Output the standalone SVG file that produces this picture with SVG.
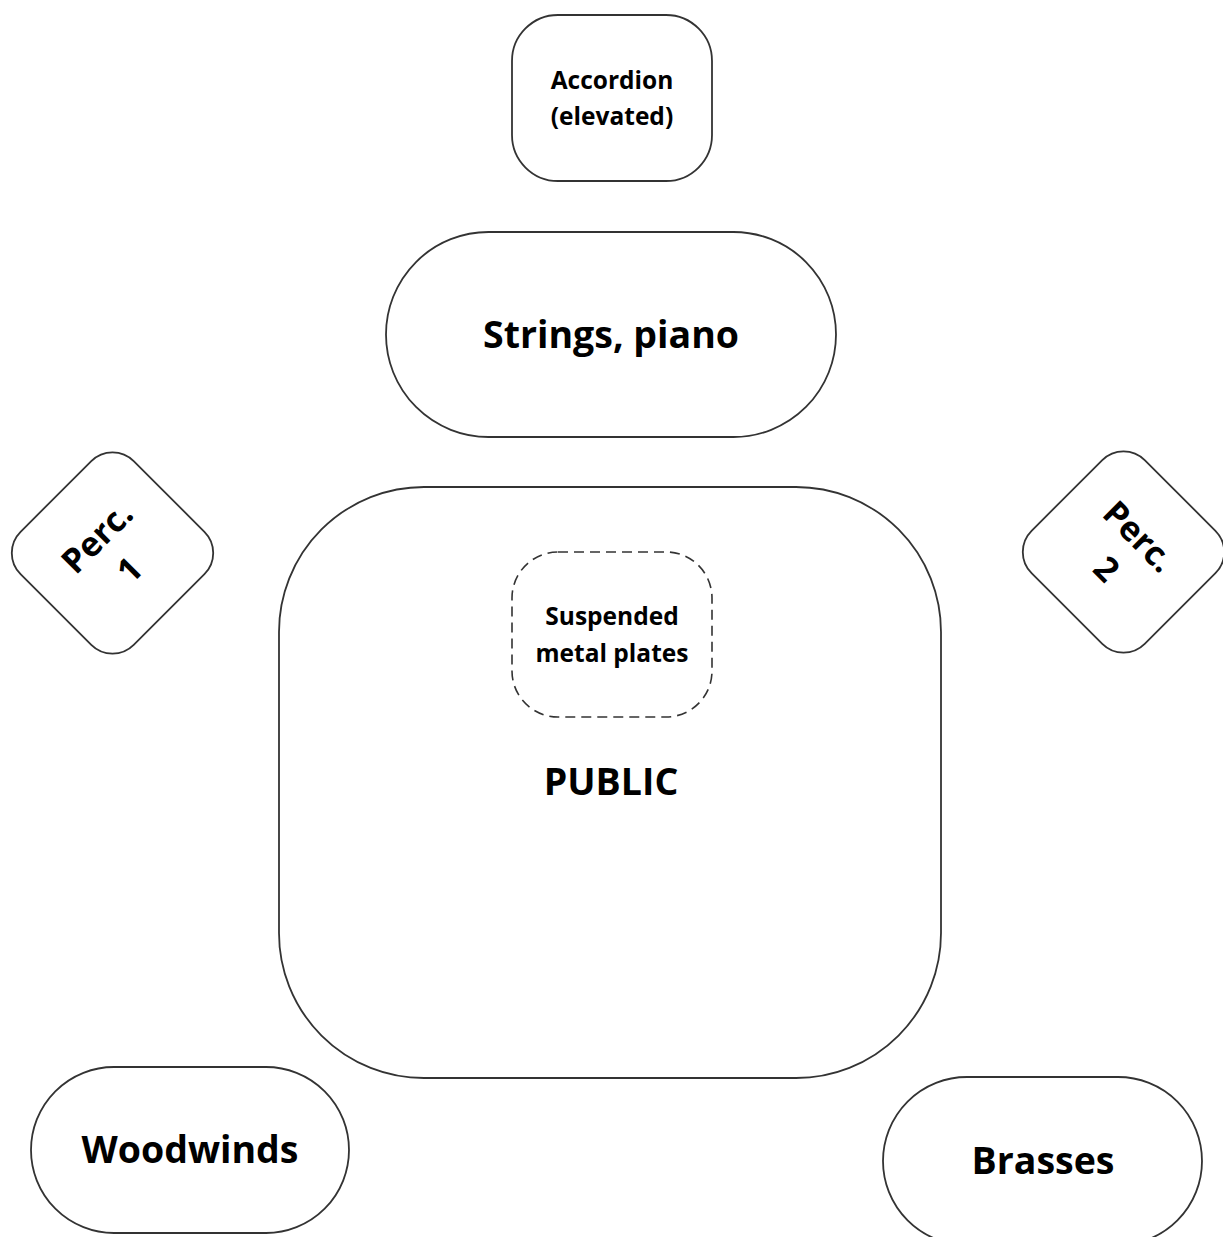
<svg xmlns="http://www.w3.org/2000/svg" width="1223" height="1237" viewBox="0 0 1223 1237">
<style>
.box{fill:#fff;stroke:#333;stroke-width:1.8}
.dash{fill:none;stroke:#333;stroke-width:1.6;stroke-dasharray:10 6}
text{font-family:"Open Sans","Noto Sans","Liberation Sans",sans-serif;font-weight:700;fill:#000;text-anchor:middle}
.s{font-size:24.5px}
.m{font-size:34px}
.l{font-size:37.5px}
</style>
<rect width="1223" height="1237" fill="#fff"/>
<g id="connectors"/>
<g id="accordion">
<rect class="box" x="512" y="15" width="200" height="166" rx="46"/>
<text class="s" x="612" y="89">Accordion</text>
<text class="s" x="612" y="125">(elevated)</text>
</g>
<g id="strings">
<rect class="box" x="386" y="232" width="450" height="205" rx="102.5"/>
<text class="l" x="611" y="348">Strings, piano</text>
</g>
<g id="public">
<rect class="box" x="279" y="487" width="662" height="591" rx="145"/>
<text class="l" x="611" y="795">PUBLIC</text>
</g>
<g id="plates">
<rect class="dash" x="512" y="552" width="200" height="165" rx="46"/>
<text class="s" x="612" y="625">Suspended</text>
<text class="s" x="612" y="662">metal plates</text>
</g>
<g id="perc1" transform="translate(112.5 553) rotate(-45)">
<rect class="box" x="-80" y="-80" width="160" height="160" rx="30"/>
<text class="m" x="0" y="-10">Perc.</text>
<text class="m" x="0" y="36">1</text>
</g>
<g id="perc2" transform="translate(1123.5 552) rotate(45)">
<rect class="box" x="-80" y="-80" width="160" height="160" rx="30"/>
<text class="m" x="0" y="-10">Perc.</text>
<text class="m" x="0" y="36">2</text>
</g>
<g id="woodwinds">
<rect class="box" x="31" y="1067" width="318" height="166" rx="83"/>
<text class="l" x="190" y="1163">Woodwinds</text>
</g>
<g id="brasses">
<rect class="box" x="883" y="1077" width="319" height="168" rx="84"/>
<text class="l" x="1043" y="1174">Brasses</text>
</g>
</svg>
